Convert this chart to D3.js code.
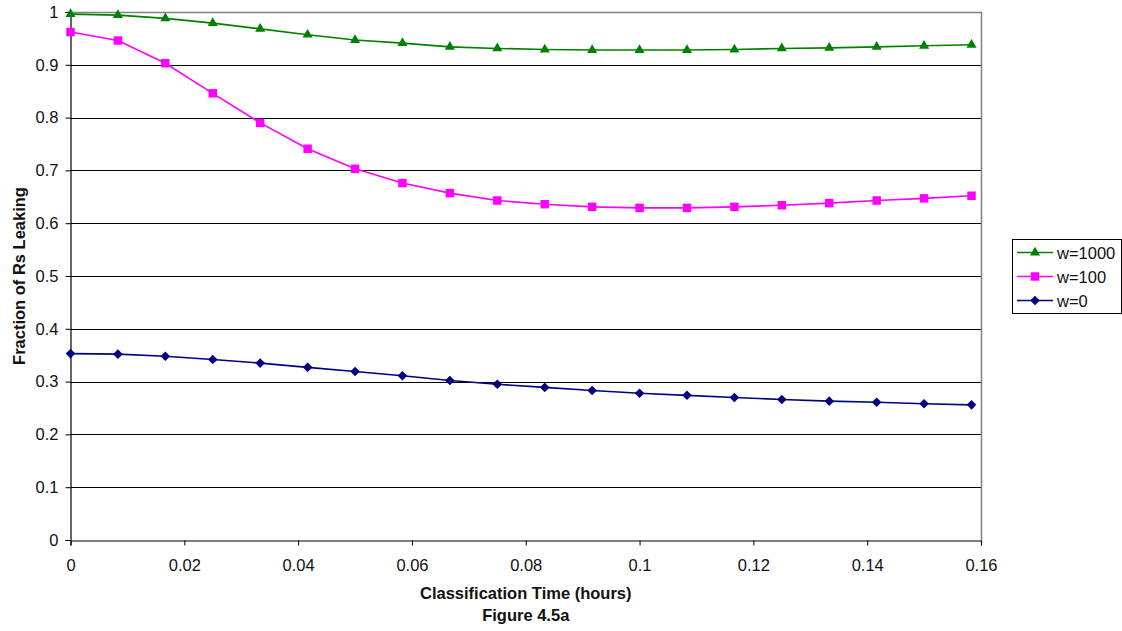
<!DOCTYPE html>
<html>
<head>
<meta charset="utf-8">
<script src="https://cdn.jsdelivr.net/npm/d3@7"></script>
<style>
  html, body { margin: 0; padding: 0; background: #fff; }
  svg { display: block; font-family: "Liberation Sans", Arial, sans-serif; }
</style>
</head>
<body>
<svg id="chart" width="1122" height="631"></svg>
<script>
// ---- data ----
const times = [0, 0.008333, 0.016667, 0.025, 0.033333, 0.041667, 0.05, 0.058333, 0.066667, 0.075,
               0.083333, 0.091667, 0.1, 0.108333, 0.116667, 0.125, 0.133333, 0.141667, 0.15, 0.158333];
const w1000 = [0.996, 0.994, 0.988, 0.979, 0.968, 0.957, 0.947, 0.941, 0.934, 0.931,
               0.929, 0.928, 0.928, 0.928, 0.929, 0.931, 0.932, 0.934, 0.936, 0.938];
const w100  = [0.962, 0.946, 0.903, 0.846, 0.790, 0.741, 0.703, 0.676, 0.657, 0.643,
               0.636, 0.631, 0.629, 0.629, 0.631, 0.634, 0.638, 0.643, 0.647, 0.652];
const w0    = [0.353, 0.352, 0.348, 0.342, 0.335, 0.327, 0.319, 0.311, 0.302, 0.295,
               0.289, 0.283, 0.278, 0.274, 0.270, 0.266, 0.263, 0.261, 0.258, 0.256];
const seriesNames = ["w=1000", "w=100", "w=0"];
const xTicks = [0, 0.02, 0.04, 0.06, 0.08, 0.1, 0.12, 0.14, 0.16];
const yTicks = [0, 0.1, 0.2, 0.3, 0.4, 0.5, 0.6, 0.7, 0.8, 0.9, 1];
const xTitle = "Classification Time (hours)";
const caption = "Figure 4.5a";
const yTitle = "Fraction of Rs Leaking";

// ---- layout ----
const L = 70.5, R = 981, T = 12, B = 540;
const svg = d3.select("#chart");
const x = d3.scaleLinear().domain([0, 0.16]).range([L, R]);
const y = d3.scaleLinear().domain([0, 1]).range([B, T]);
const fontSize = 16.5;

const styles = [
  { color: "#008000", symbol: d3.symbolTriangle, size: 44, rot: 0 },
  { color: "#FF00FF", symbol: d3.symbolSquare, size: 72, rot: 0 },
  { color: "#000080", symbol: d3.symbolSquare, size: 46, rot: 45 }
];
const allSeries = [w1000, w100, w0];

// gridlines
svg.append("g").selectAll("line")
  .data(yTicks.filter(v => v > 0 && v < 1))
  .join("line")
  .attr("x1", L).attr("x2", R)
  .attr("y1", d => Math.round(y(d)) + 0.5)
  .attr("y2", d => Math.round(y(d)) + 0.5)
  .attr("stroke", "#000").attr("stroke-width", 1);

// plot border top/right (gray)
svg.append("path")
  .attr("d", `M${L},${Math.round(T) + 0.5}H${Math.round(R) + 0.5}V${B}`)
  .attr("fill", "none").attr("stroke", "#808080").attr("stroke-width", 1.5);

// axes
const yAxis = d3.axisLeft(y).tickValues(yTicks).tickFormat(d => String(+d.toFixed(2)))
  .tickSize(5).tickPadding(7);
const gy = svg.append("g").attr("transform", `translate(${L},0)`).call(yAxis);
const xAxis = d3.axisBottom(x).tickValues(xTicks).tickFormat(d => String(+d.toFixed(2)))
  .tickSize(5).tickPadding(14);
const gx = svg.append("g").attr("transform", `translate(0,${Math.round(B) + 0.5})`).call(xAxis);
[gx, gy].forEach(g => {
  g.selectAll("path.domain").attr("stroke", "#000").attr("stroke-width", 1.2);
  g.selectAll(".tick line").attr("stroke", "#000");
  g.selectAll(".tick text").attr("fill", "#111")
    .style("font-family", '"Liberation Sans", Arial, sans-serif')
    .style("font-size", fontSize + "px");
});

// series
const line = d3.line().x((d, i) => x(times[i])).y(d => y(d));
allSeries.forEach((vals, si) => {
  const st = styles[si];
  svg.append("path").datum(vals)
    .attr("d", line)
    .attr("fill", "none").attr("stroke", st.color).attr("stroke-width", 1.6);
  svg.append("g").selectAll("path")
    .data(vals).join("path")
    .attr("transform", (d, i) => `translate(${x(times[i])},${y(d)}) rotate(${st.rot})`)
    .attr("d", d3.symbol().type(st.symbol).size(st.size))
    .attr("fill", st.color);
});

// axis titles
svg.append("text")
  .attr("x", (L + R) / 2).attr("y", 599)
  .attr("text-anchor", "middle")
  .attr("font-weight", "bold").attr("font-size", fontSize)
  .attr("fill", "#111")
  .text(xTitle);
svg.append("text")
  .attr("x", (L + R) / 2).attr("y", 620.5)
  .attr("text-anchor", "middle")
  .attr("font-weight", "bold").attr("font-size", fontSize)
  .attr("fill", "#111")
  .text(caption);
svg.append("text")
  .attr("transform", `translate(24.5,${(T + B) / 2}) rotate(-90)`)
  .attr("text-anchor", "middle")
  .attr("font-weight", "bold").attr("font-size", fontSize)
  .attr("fill", "#111")
  .text(yTitle);

// legend
const lg = svg.append("g");
lg.append("rect")
  .attr("x", 1012.5).attr("y", 239.5).attr("width", 109).attr("height", 74)
  .attr("fill", "#fff").attr("stroke", "#000").attr("stroke-width", 1);
const rowY = [252.5, 276.5, 300.5];
seriesNames.forEach((name, si) => {
  const st = styles[si];
  const ry = rowY[si];
  lg.append("line")
    .attr("x1", 1017).attr("x2", 1053).attr("y1", ry).attr("y2", ry)
    .attr("stroke", st.color).attr("stroke-width", 1.6);
  lg.append("path")
    .attr("transform", `translate(1035,${ry}) rotate(${st.rot})`)
    .attr("d", d3.symbol().type(st.symbol).size(st.size))
    .attr("fill", st.color);
  lg.append("text")
    .attr("x", 1057).attr("y", ry + 6)
    .attr("font-size", fontSize).attr("fill", "#111")
    .text(name);
});
</script>
</body>
</html>
